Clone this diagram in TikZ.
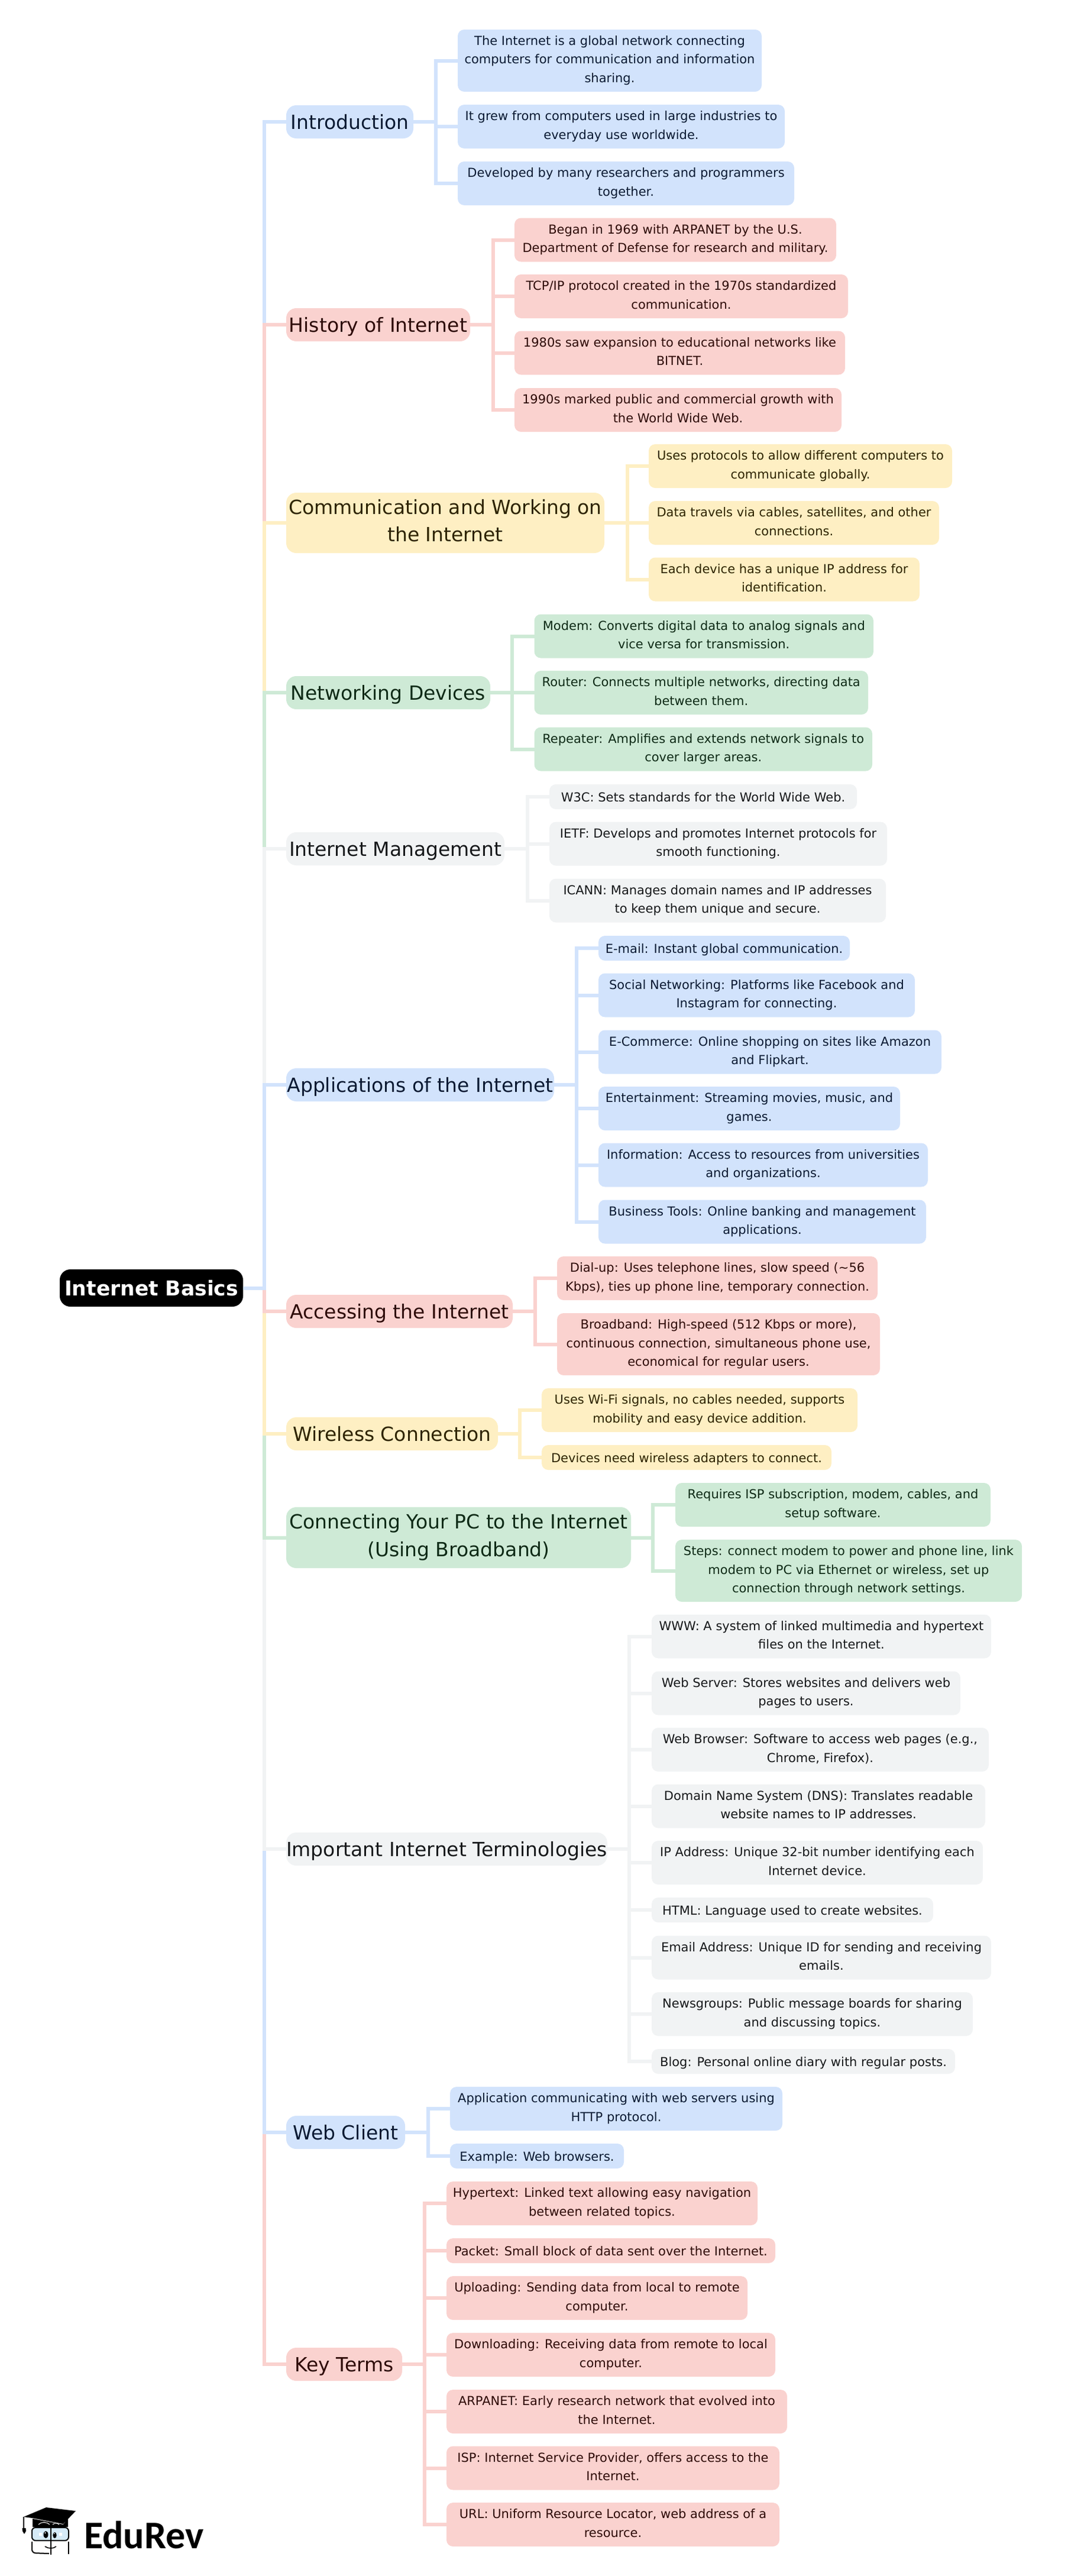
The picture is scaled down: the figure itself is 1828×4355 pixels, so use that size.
\documentclass[tikz,border=0pt]{standalone}
\usepackage{fontspec}
\setmainfont{DejaVu Sans}
\newfontfamily\logofont{Carlito}
\definecolor{boxblue}{HTML}{D2E3FC}
\definecolor{boxred}{HTML}{FAD2CF}
\definecolor{boxyellow}{HTML}{FEEFC3}
\definecolor{boxgreen}{HTML}{CEEAD6}
\definecolor{boxgrey}{HTML}{F1F3F4}
\definecolor{inkblue}{HTML}{0B1A33}
\definecolor{inkred}{HTML}{2E0B08}
\definecolor{inkyellow}{HTML}{2E2400}
\definecolor{inkgreen}{HTML}{0E2A16}
\definecolor{inkgrey}{HTML}{16181A}
\definecolor{lensblue}{HTML}{D5EAF7}

\begin{document}
\begin{tikzpicture}[x=1pt,y=-1pt,
  box/.style={rectangle,anchor=west,inner sep=0,outer sep=0,align=center},
  leaf/.style={box,rounded corners=11,font=\fontsize{21}{31.5}\selectfont,
    execute at begin node={\rule[-5pt]{0pt}{26pt}},execute at end node={\rule[-5pt]{0pt}{26pt}}},
  branch/.style={box,rounded corners=17,minimum height=56,font=\fontsize{33}{46.5}\selectfont,
    execute at begin node={\rule[-8pt]{0pt}{40pt}},execute at end node={\rule[-8pt]{0pt}{40pt}}},
  blue/.style={fill=boxblue,text=inkblue},
  red/.style={fill=boxred,text=inkred},
  yellow/.style={fill=boxyellow,text=inkyellow},
  green/.style={fill=boxgreen,text=inkgreen},
  grey/.style={fill=boxgrey,text=inkgrey},
  blueline/.style={draw=boxblue,line width=6},
  redline/.style={draw=boxred,line width=6},
  yellowline/.style={draw=boxyellow,line width=6},
  greenline/.style={draw=boxgreen,line width=6},
  greyline/.style={draw=boxgrey,line width=6}]

\useasboundingbox (0,0) rectangle (1828,4355);
\coordinate (trunk) at (446.5,0);

%Root
\node[box,rounded corners=18,fill=black,text=white,minimum width=310,minimum height=63,font=\fontsize{34.5}{46.5}\selectfont\bfseries,
  execute at begin node={\rule[-4pt]{0pt}{33pt}},execute at end node={\rule[-4pt]{0pt}{33pt}}] (root) at (101,2177.5) {Internet Basics};

%Introduction
\node[branch,blue,minimum width=215] (intro) at (484,206) {Introduction};
\node[leaf,blue,minimum width=514,minimum height=105] (intro1) at (774,102.5) {The Internet is a global network connecting\\computers for communication and information\\sharing.};
\node[leaf,blue,minimum width=553,minimum height=74] (intro2) at (774,214) {It grew from computers used in large industries to\\everyday use worldwide.};
\node[leaf,blue,minimum width=569,minimum height=74] (intro3) at (774,310) {Developed by many researchers and programmers\\together.};

%History
\node[branch,red,minimum width=311] (hist) at (484,549) {History of Internet};
\node[leaf,red,minimum width=544,minimum height=74] (hist1) at (870,405.5) {Began in 1969 with ARPANET by the U.S.\\Department of Defense for research and military.};
\node[leaf,red,minimum width=564,minimum height=74] (hist2) at (870,501) {TCP/IP protocol created in the 1970s standardized\\communication.};
\node[leaf,red,minimum width=559,minimum height=74] (hist3) at (870,596.5) {1980s saw expansion to educational networks like\\BITNET.};
\node[leaf,red,minimum width=553,minimum height=74] (hist4) at (870,693) {1990s marked public and commercial growth with\\the World Wide Web.};

%Communication
\node[branch,yellow,minimum width=538,minimum height=102] (comm) at (484,884) {Communication and Working on\\the Internet};
\node[leaf,yellow,minimum width=513,minimum height=74] (comm1) at (1097,788) {Uses protocols to allow different computers to\\communicate globally.};
\node[leaf,yellow,minimum width=491,minimum height=74] (comm2) at (1097,884) {Data travels via cables, satellites, and other\\connections.};
\node[leaf,yellow,minimum width=458,minimum height=74] (comm3) at (1097,979.5) {Each device has a unique IP address for\\identification.};

%Networking
\node[branch,green,minimum width=345] (netw) at (484,1171) {Networking Devices};
\node[leaf,green,minimum width=573.5,minimum height=74] (netw1) at (903.5,1075.5) {Modem: Converts digital data to analog signals and\\vice versa for transmission.};
\node[leaf,green,minimum width=564.5,minimum height=74] (netw2) at (903.5,1171) {Router: Connects multiple networks, directing data\\between them.};
\node[leaf,green,minimum width=571.5,minimum height=74] (netw3) at (903.5,1266.5) {Repeater: Amplifies and extends network signals to\\cover larger areas.};

%Management
\node[branch,grey,minimum width=369] (mgmt) at (484,1435) {Internet Management};
\node[leaf,grey,minimum width=520,minimum height=42] (mgmt1) at (929,1347) {W3C: Sets standards for the World Wide Web.};
\node[leaf,grey,minimum width=571,minimum height=74] (mgmt2) at (929,1426.5) {IETF: Develops and promotes Internet protocols for\\smooth functioning.};
\node[leaf,grey,minimum width=569,minimum height=74] (mgmt3) at (929,1522.5) {ICANN: Manages domain names and IP addresses\\to keep them unique and secure.};

%Applications
\node[branch,blue,minimum width=453] (apps) at (484,1834) {Applications of the Internet};
\node[leaf,blue,minimum width=425,minimum height=42] (apps1) at (1012,1603) {E-mail: Instant global communication.};
\node[leaf,blue,minimum width=535,minimum height=74] (apps2) at (1012,1682.5) {Social Networking: Platforms like Facebook and\\Instagram for connecting.};
\node[leaf,blue,minimum width=580,minimum height=74] (apps3) at (1012,1778.5) {E-Commerce: Online shopping on sites like Amazon\\and Flipkart.};
\node[leaf,blue,minimum width=510,minimum height=74] (apps4) at (1012,1874) {Entertainment: Streaming movies, music, and\\games.};
\node[leaf,blue,minimum width=557,minimum height=74] (apps5) at (1012,1969.5) {Information: Access to resources from universities\\and organizations.};
\node[leaf,blue,minimum width=554,minimum height=74] (apps6) at (1012,2065.5) {Business Tools: Online banking and management\\applications.};

%Accessing
\node[branch,red,minimum width=383] (acc) at (484,2217) {Accessing the Internet};
\node[leaf,red,minimum width=542,minimum height=74] (acc1) at (942,2161) {Dial-up: Uses telephone lines, slow speed (\textasciitilde56\\Kbps), ties up phone line, temporary connection.};
\node[leaf,red,minimum width=546,minimum height=105] (acc2) at (942,2272.5) {Broadband: High-speed (512 Kbps or more),\\continuous connection, simultaneous phone use,\\economical for regular users.};

%Wireless
\node[branch,yellow,minimum width=358] (wifi) at (484,2424) {Wireless Connection};
\node[leaf,yellow,minimum width=534,minimum height=74] (wifi1) at (916,2384) {Uses Wi-Fi signals, no cables needed, supports\\mobility and easy device addition.};
\node[leaf,yellow,minimum width=490,minimum height=42] (wifi2) at (916,2464) {Devices need wireless adapters to connect.};

%Connecting
\node[branch,green,minimum width=583,minimum height=103] (conn) at (484,2599.5) {Connecting Your PC to the Internet\\(Using Broadband)};
\node[leaf,green,minimum width=533,minimum height=74] (conn1) at (1142,2544) {Requires ISP subscription, modem, cables, and\\setup software.};
\node[leaf,green,minimum width=586,minimum height=105] (conn2) at (1142,2655.5) {Steps: connect modem to power and phone line, link\\modem to PC via Ethernet or wireless, set up\\connection through network settings.};

%Terminologies
\node[branch,grey,minimum width=542] (term) at (484,3126) {Important Internet Terminologies};
\node[leaf,grey,minimum width=574,minimum height=74] (term1) at (1102,2766.5) {WWW: A system of linked multimedia and hypertext\\files on the Internet.};
\node[leaf,grey,minimum width=522,minimum height=74] (term2) at (1102,2862.5) {Web Server: Stores websites and delivers web\\pages to users.};
\node[leaf,grey,minimum width=570,minimum height=74] (term3) at (1102,2958) {Web Browser: Software to access web pages (e.g.,\\Chrome, Firefox).};
\node[leaf,grey,minimum width=564,minimum height=74] (term4) at (1102,3053.5) {Domain Name System (DNS): Translates readable\\website names to IP addresses.};
\node[leaf,grey,minimum width=560,minimum height=74] (term5) at (1102,3149) {IP Address: Unique 32-bit number identifying each\\Internet device.};
\node[leaf,grey,minimum width=476,minimum height=42] (term6) at (1102,3229) {HTML: Language used to create websites.};
\node[leaf,grey,minimum width=574,minimum height=74] (term7) at (1102,3309.5) {Email Address: Unique ID for sending and receiving\\emails.};
\node[leaf,grey,minimum width=543,minimum height=74] (term8) at (1102,3405) {Newsgroups: Public message boards for sharing\\and discussing topics.};
\node[leaf,grey,minimum width=513,minimum height=42] (term9) at (1102,3485) {Blog: Personal online diary with regular posts.};

%Web Client
\node[branch,blue,minimum width=201] (web) at (484,3605) {Web Client};
\node[leaf,blue,minimum width=562,minimum height=74] (web1) at (761,3565) {Application communicating with web servers using\\HTTP protocol.};
\node[leaf,blue,minimum width=294,minimum height=42] (web2) at (761,3645) {Example: Web browsers.};

%Key Terms
\node[branch,red,minimum width=196] (keyt) at (484,3997) {Key Terms};
\node[leaf,red,minimum width=526,minimum height=74] (keyt1) at (755,3725) {Hypertext: Linked text allowing easy navigation\\between related topics.};
\node[leaf,red,minimum width=556,minimum height=42] (keyt2) at (755,3805) {Packet: Small block of data sent over the Internet.};
\node[leaf,red,minimum width=509,minimum height=74] (keyt3) at (755,3885) {Uploading: Sending data from local to remote\\computer.};
\node[leaf,red,minimum width=556,minimum height=74] (keyt4) at (755,3981) {Downloading: Receiving data from remote to local\\computer.};
\node[leaf,red,minimum width=576,minimum height=74] (keyt5) at (755,4077) {ARPANET: Early research network that evolved into\\the Internet.};
\node[leaf,red,minimum width=563,minimum height=74] (keyt6) at (755,4172.5) {ISP: Internet Service Provider, offers access to the\\Internet.};
\node[leaf,red,minimum width=563,minimum height=74] (keyt7) at (755,4268) {URL: Uniform Resource Locator, web address of a\\resource.};

%trunk, longest first so the nearer branches lie on top
\draw[redline] (root.east) -- (root.east -| trunk) |- (keyt.west);
\draw[blueline] (root.east) -- (root.east -| trunk) |- (web.west);
\draw[greyline] (root.east) -- (root.east -| trunk) |- (term.west);
\draw[greenline] (root.east) -- (root.east -| trunk) |- (conn.west);
\draw[yellowline] (root.east) -- (root.east -| trunk) |- (wifi.west);
\draw[redline] (root.east) -- (root.east -| trunk) |- (acc.west);
\draw[blueline] (root.east) -- (root.east -| trunk) |- (intro.west);
\draw[redline] (root.east) -- (root.east -| trunk) |- (hist.west);
\draw[yellowline] (root.east) -- (root.east -| trunk) |- (comm.west);
\draw[greenline] (root.east) -- (root.east -| trunk) |- (netw.west);
\draw[greyline] (root.east) -- (root.east -| trunk) |- (mgmt.west);
\draw[blueline] (root.east) -- (root.east -| trunk) |- (apps.west);

%brackets
\coordinate (introbus) at (737,0);
\foreach \leafname in {intro1,intro2,intro3}
  \draw[blueline] (intro.east) -- (intro.east -| introbus) |- (\leafname.west);
\coordinate (histbus) at (833.5,0);
\foreach \leafname in {hist1,hist2,hist3,hist4}
  \draw[redline] (hist.east) -- (hist.east -| histbus) |- (\leafname.west);
\coordinate (commbus) at (1061,0);
\foreach \leafname in {comm1,comm2,comm3}
  \draw[yellowline] (comm.east) -- (comm.east -| commbus) |- (\leafname.west);
\coordinate (netwbus) at (866,0);
\foreach \leafname in {netw1,netw2,netw3}
  \draw[greenline] (netw.east) -- (netw.east -| netwbus) |- (\leafname.west);
\coordinate (mgmtbus) at (892,0);
\foreach \leafname in {mgmt1,mgmt2,mgmt3}
  \draw[greyline] (mgmt.east) -- (mgmt.east -| mgmtbus) |- (\leafname.west);
\coordinate (appsbus) at (975,0);
\foreach \leafname in {apps1,apps2,apps3,apps4,apps5,apps6}
  \draw[blueline] (apps.east) -- (apps.east -| appsbus) |- (\leafname.west);
\coordinate (accbus) at (905,0);
\foreach \leafname in {acc1,acc2}
  \draw[redline] (acc.east) -- (acc.east -| accbus) |- (\leafname.west);
\coordinate (wifibus) at (879,0);
\foreach \leafname in {wifi1,wifi2}
  \draw[yellowline] (wifi.east) -- (wifi.east -| wifibus) |- (\leafname.west);
\coordinate (connbus) at (1104,0);
\foreach \leafname in {conn1,conn2}
  \draw[greenline] (conn.east) -- (conn.east -| connbus) |- (\leafname.west);
\coordinate (termbus) at (1064,0);
\foreach \leafname in {term1,term2,term3,term4,term5,term6,term7,term8,term9}
  \draw[greyline] (term.east) -- (term.east -| termbus) |- (\leafname.west);
\coordinate (webbus) at (724,0);
\foreach \leafname in {web1,web2}
  \draw[blueline] (web.east) -- (web.east -| webbus) |- (\leafname.west);
\coordinate (keytbus) at (718,0);
\foreach \leafname in {keyt1,keyt2,keyt3,keyt4,keyt5,keyt6,keyt7}
  \draw[redline] (keyt.east) -- (keyt.east -| keytbus) |- (\leafname.west);

%logo
\fill (40,4255) -- (78,4239) -- (128,4245) -- (107,4267) -- (55,4257) -- cycle;
\fill (55,4258) -- (107,4268) -- (115,4257) -- (115,4272) -- (55,4272) -- cycle;
\draw[white,line width=1] (65,4268) .. controls (70,4263) and (78,4263) .. (84,4268);
\draw[white,line width=1] (89,4268) .. controls (92,4265) and (97,4265) .. (100,4268);
\draw[line width=1.2] (40,4255) -- (40,4275);
\fill (37.5,4274) -- (43.5,4274) -- (44,4279) -- (41,4284) -- (38,4279) -- cycle;
\draw[fill=lensblue,line width=2,rounded corners=6] (54,4273) rectangle (116,4295);
\draw[line width=2,rounded corners=6] (54,4297) -- (54,4316) -- (83,4317);
\draw[line width=2,rounded corners=6] (116,4297) -- (116,4318);
\draw[line width=2] (85.5,4270) -- (85.5,4319);
\fill (77.5,4285) ellipse (4 and 6);
\fill (92.5,4286) ellipse (3.2 and 5);
\fill[white] (76.5,4282) circle (1.2);
\fill[white] (91.8,4283) circle (1);
\fill[white] (66,4282) rectangle (71,4287);
\fill[white] (100,4282) rectangle (105,4287);
\draw[line width=1.6] (76,4305) .. controls (82,4309) and (90,4309) .. (95,4305);
\node[anchor=west,inner sep=0,font=\logofont\fontsize{66}{66}\selectfont\bfseries] (logotext) at (142,4286) {EduRev};

\end{tikzpicture}
\end{document}
